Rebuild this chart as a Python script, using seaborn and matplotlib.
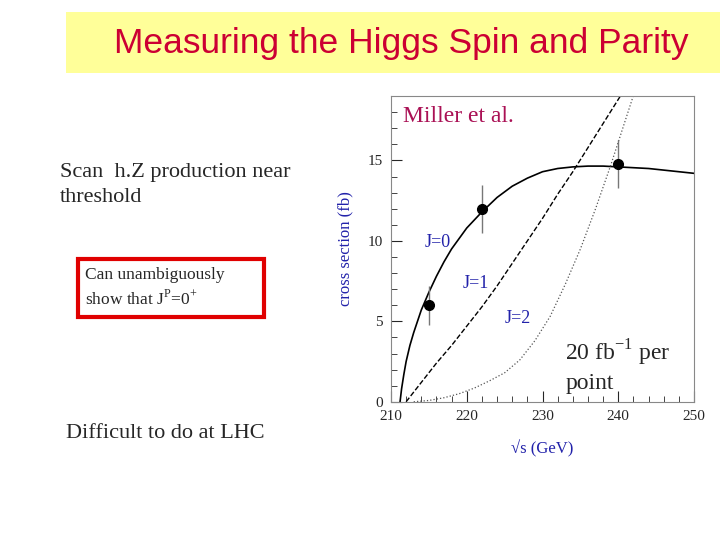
import matplotlib
matplotlib.use("Agg")
import matplotlib.pyplot as plt
import seaborn as sns
from matplotlib.patches import Rectangle

sns.set_style("white")
plt.rcParams['font.family'] = ['Liberation Serif', 'DejaVu Serif']
plt.rcParams['mathtext.fontset'] = 'custom'
plt.rcParams['mathtext.rm'] = 'Liberation Serif'

j0_x = [211.2, 211.4, 211.7, 212, 212.5, 213, 214, 215, 216, 217, 218, 220, 222, 224, 226, 228, 230, 232, 234, 236, 238, 240, 242, 244, 246, 248, 250]
j0_y = [0, 0.8, 1.7, 2.5, 3.5, 4.3, 5.7, 6.8, 7.8, 8.7, 9.5, 10.8, 11.8, 12.7, 13.4, 13.9, 14.3, 14.5, 14.6, 14.65, 14.65, 14.6, 14.55, 14.5, 14.4, 14.3, 14.2]
j1_x = [212, 213, 214, 216, 218, 220, 222, 224, 226, 228, 230, 232, 234, 236, 238, 240, 242, 244]
j1_y = [0, 0.6, 1.2, 2.4, 3.5, 4.7, 5.9, 7.2, 8.6, 10.0, 11.4, 12.9, 14.3, 15.8, 17.3, 18.8, 20.3, 21.8]
j2_x = [213, 215, 217, 219, 221, 223, 225, 227, 229, 231, 233, 235, 237, 239, 241, 243]
j2_y = [0, 0.08, 0.25, 0.5, 0.85, 1.3, 1.8, 2.6, 3.8, 5.3, 7.3, 9.5, 12.0, 14.7, 17.6, 20.5]
pt_x = [215, 222, 240]
pt_y = [6.0, 12.0, 14.8]
pt_err = [1.2, 1.5, 1.5]

fig = plt.figure(figsize=(7.2, 5.4), dpi=100)
fig.patches.append(Rectangle((66/720, 1-73/540), 654/720, 61/540, transform=fig.transFigure,
                             facecolor='#ffff99', edgecolor='none', zorder=0))
fig.text(114/720, 1-44/540, "Measuring the Higgs Spin and Parity", family='Liberation Sans',
         fontsize=25.5, color='#cc0033', ha='left', va='center')
fig.text(60/720, 1-185/540, "Scan  h.Z production near\nthreshold", fontsize=16, va='center', linespacing=1.45)
fig.patches.append(Rectangle((78/720, 1-317/540), 186/720, 58/540, transform=fig.transFigure,
                             facecolor='none', edgecolor='#e00000', linewidth=3))
fig.text(85/720, 1-288/540, "Can unambiguously\nshow that J$^{\\mathrm{P}}$=0$^{+}$", fontsize=12.5, va='center', linespacing=1.4)
fig.text(66/720, 1-433/540, "Difficult to do at LHC", fontsize=16, va='center')

ax = fig.add_axes([0.543, 0.256, 0.421, 0.566])
sns.lineplot(x=j0_x, y=j0_y, ax=ax, color='black', lw=1.2)
sns.lineplot(x=j1_x, y=j1_y, ax=ax, color='black', lw=1.0, linestyle='--')
sns.lineplot(x=j2_x, y=j2_y, ax=ax, color='#555555', lw=0.9, linestyle=':')
ax.errorbar(pt_x, pt_y, yerr=pt_err, fmt='o', color='black', ms=7, ecolor='#777777', elinewidth=1)
ax.set_xlim(210, 250)
ax.set_ylim(0, 19)
ax.set_xticks([210, 220, 230, 240, 250])
ax.set_yticks([0, 5, 10, 15])
ax.set_xticks(range(210, 251, 2), minor=True)
ax.set_yticks(list(range(0, 19)), minor=True)
ax.tick_params(which='both', direction='in', bottom=True, left=True, labelsize=11, pad=6)
ax.tick_params(which='major', length=8)
ax.tick_params(which='minor', length=4)
for s in ax.spines.values():
    s.set_color('#888888')
ax.set_xlabel("√s (GeV)", color='#2222aa', fontsize=12, labelpad=12)
ax.set_ylabel("cross section (fb)", color='#2222aa', fontsize=12, labelpad=10)
ax.text(211.6, 17.4, "Miller et al.", color='#aa1155', fontsize=17)
ax.text(214.5, 9.6, "J=0", color='#2222aa', fontsize=13)
ax.text(219.5, 7.1, "J=1", color='#2222aa', fontsize=13)
ax.text(225, 4.9, "J=2", color='#2222aa', fontsize=13)
ax.text(233, 0.8, "20 fb$^{-1}$ per\npoint", fontsize=17, linespacing=1.3)
fig.savefig("out.png", dpi=100)
